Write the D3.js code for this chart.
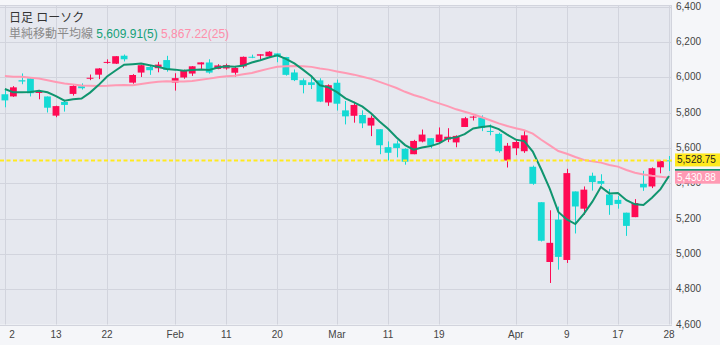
<!DOCTYPE html>
<html><head><meta charset="utf-8">
<script src="https://cdn.jsdelivr.net/npm/d3@7"></script>
<style>html,body{margin:0;padding:0;background:#f5f6f9;} svg{display:block;}</style>
</head><body><svg id="c" width="720" height="345"></svg>
<script>
// ---------- data ----------
const dates = [
 "2025-01-02","2025-01-03","2025-01-06","2025-01-07","2025-01-08","2025-01-10","2025-01-13","2025-01-14","2025-01-15","2025-01-16",
 "2025-01-17","2025-01-21","2025-01-22","2025-01-23","2025-01-24","2025-01-27","2025-01-28","2025-01-29","2025-01-30","2025-01-31",
 "2025-02-03","2025-02-04","2025-02-05","2025-02-06","2025-02-07","2025-02-10","2025-02-11","2025-02-12","2025-02-13","2025-02-14",
 "2025-02-18","2025-02-19","2025-02-20","2025-02-21","2025-02-24","2025-02-25","2025-02-26","2025-02-27","2025-02-28",
 "2025-03-03","2025-03-04","2025-03-05","2025-03-06","2025-03-07","2025-03-10","2025-03-11","2025-03-12","2025-03-13","2025-03-14",
 "2025-03-17","2025-03-18","2025-03-19","2025-03-20","2025-03-21","2025-03-24","2025-03-25","2025-03-26","2025-03-27","2025-03-28","2025-03-31",
 "2025-04-01","2025-04-02","2025-04-03","2025-04-04","2025-04-07","2025-04-08","2025-04-09","2025-04-10","2025-04-11",
 "2025-04-14","2025-04-15","2025-04-16","2025-04-17","2025-04-21","2025-04-22","2025-04-23","2025-04-24","2025-04-25","2025-04-28"];
const open = [
 5903.26,5891.07,5982.81,5993.26,5910.66,5890.65,5782.21,5859.60,5905.21,5948.36,5991.00,6014.12,6081.39,6076.30,6121.43,5969.04,6026.00,6057.70,6050.75,6096.79,
 5969.65,5998.14,6020.45,6072.22,6083.13,6046.40,6049.32,6025.08,6060.59,6115.52,6121.60,6117.76,6134.50,6114.10,6026.69,5982.73,5970.87,5981.88,5856.74,
 5968.33,5811.98,5781.43,5785.87,5726.01,5705.37,5603.65,5624.84,5594.45,5563.85,5635.60,5654.53,5632.37,5646.92,5630.73,5718.08,5775.86,5771.66,5695.64,5679.05,5527.91,
 5597.53,5580.76,5492.74,5292.14,4953.79,5193.57,4965.28,5353.15,5255.56,5441.96,5411.99,5335.75,5305.45,5232.94,5207.67,5395.92,5381.38,5489.73,5529.22];
const high = [
 5935.09,5949.34,6021.04,6000.68,5927.89,5891.00,5838.50,5871.92,5960.61,5964.69,6014.96,6051.51,6100.81,6118.73,6128.18,6017.17,6069.50,6062.83,6086.64,6120.91,
 6022.13,6042.48,6062.86,6084.03,6101.28,6073.38,6076.28,6063.47,6116.91,6127.47,6129.63,6147.43,6134.50,6114.82,6043.65,5992.65,6009.82,5993.69,5959.40,
 5986.09,5865.08,5860.59,5812.08,5783.01,5705.37,5636.30,5642.19,5597.78,5645.27,5703.52,5654.53,5715.33,5711.15,5670.84,5775.14,5781.74,5783.62,5732.28,5685.89,5627.56,
 5650.57,5695.31,5499.53,5292.14,5246.59,5267.47,5481.34,5353.15,5381.46,5459.46,5450.41,5367.24,5328.31,5232.94,5309.60,5469.69,5489.40,5528.11,5553.66];
const low = [
 5829.53,5888.66,5960.01,5890.68,5874.78,5800.00,5773.31,5805.08,5895.68,5930.00,5983.00,5989.00,6076.00,6074.67,6088.74,5962.92,6001.00,6012.96,6027.46,6030.93,
 5923.93,5990.87,6007.06,6046.83,6019.96,6044.84,6042.34,6003.00,6050.95,6107.62,6099.51,6111.15,6084.59,6008.56,5977.83,5908.49,5932.69,5858.78,5837.66,
 5810.91,5732.59,5742.35,5711.64,5666.29,5564.02,5528.41,5546.09,5504.65,5563.85,5631.12,5597.76,5622.20,5632.30,5603.10,5718.08,5754.79,5694.41,5670.94,5572.42,5488.73,
 5558.52,5571.48,5390.83,5069.90,4835.04,4910.42,4948.43,5115.27,5220.77,5358.02,5386.44,5220.79,5255.58,5101.63,5207.67,5356.53,5371.96,5455.86,5468.64];
const close = [
 5868.55,5942.47,5975.38,5909.03,5918.25,5827.04,5836.22,5842.91,5949.91,5937.34,5996.66,6049.24,6086.37,6118.71,6101.24,6012.28,6067.70,6039.31,6071.17,6040.53,
 5994.57,6037.88,6061.48,6083.57,6025.99,6066.44,6068.50,6051.97,6115.07,6114.63,6129.58,6144.15,6117.52,6013.13,5983.25,5955.25,5956.06,5861.57,5954.50,
 5849.72,5778.15,5842.63,5738.52,5770.20,5614.56,5572.07,5599.30,5521.52,5638.94,5675.12,5614.66,5675.29,5662.89,5667.56,5767.57,5776.65,5712.20,5693.31,5580.94,5611.85,
 5633.07,5670.97,5396.52,5074.08,5062.25,4982.77,5456.90,5268.05,5363.36,5405.97,5396.63,5275.70,5282.70,5158.20,5287.76,5375.86,5484.77,5525.21,5528.75];
// closes before the first visible day (for moving averages)
const priorCloses = [6021.63,5998.74,6032.38,6047.15,6049.88,6086.49,6075.11,6090.27,6052.85,6034.91,6084.19,6051.25,
 6051.09,6074.08,6050.61,5872.16,5867.08,5930.85,5974.07,6040.04,6037.59,5970.84,5906.94,5881.63];
const yTicks = [4600,4800,5000,5200,5400,5600,5800,6000,6200,6400];
const xTickDates = ["2025-01-02","2025-01-13","2025-01-22","2025-02-03","2025-02-11","2025-02-20","2025-03-03","2025-03-11","2025-03-19","2025-04-01","2025-04-09","2025-04-17","2025-04-28"];
const xTickLabels = ["2","13","22","Feb","11","20","Mar","11","19","Apr","9","17","28"];
const maPeriods = [5, 25];
const legendDate = "2025-03-18";
const titleText = "日足 ローソク";
const maText = "単純移動平均線";

// ---------- styles ----------
const C = {outer:"#f5f6f9", plot:"#e6e8ef", grid:"#d2d4dd", up:"#ff0a54", down:"#14dad4",
  ma5:"#10956f", ma25:"#ff9ab4", last:"#ffe920", text:"#444"};
const FONT = "'Liberation Sans', Arial, 'Noto Sans CJK JP', sans-serif";

const svg = d3.select("#c");
const P = {left:0, top:5, right:672, bottom:324.5};

const step = (669 - 4.9) / (dates.length - 1);
const x = d3.scaleBand().domain(dates).range([4.9 - step/2, 669 + step/2]).padding(0);
const cx = d => x(d) + x.bandwidth()/2;
const y = d3.scaleLinear().domain([4600, 6400]).range([324.5, 6.5]);

// moving averages
const allC = priorCloses.concat(close);
const off = priorCloses.length;
const ma = {};
maPeriods.forEach(n => {
  ma[n] = close.map((c, i) => d3.mean(allC.slice(off + i - n + 1, off + i + 1)));
});

svg.append("rect").attr("width", 720).attr("height", 345).attr("fill", C.outer);
svg.append("rect").attr("x", P.left).attr("y", P.top).attr("width", P.right - P.left).attr("height", P.bottom - P.top).attr("fill", C.plot);

svg.append("defs").append("clipPath").attr("id", "clip")
  .append("rect").attr("x", P.left).attr("y", P.top).attr("width", P.right - P.left).attr("height", P.bottom - P.top);

// grid
const g = svg.append("g");
g.selectAll("line.h").data(yTicks).join("line")
  .attr("x1", P.left).attr("x2", P.right)
  .attr("y1", d => Math.round(y(d)) + 0.5).attr("y2", d => Math.round(y(d)) + 0.5)
  .attr("stroke", C.grid);
g.selectAll("line.v").data(xTickDates).join("line")
  .attr("x1", d => Math.round(cx(d)) + 0.5).attr("x2", d => Math.round(cx(d)) + 0.5)
  .attr("y1", P.top).attr("y2", P.bottom)
  .attr("stroke", C.grid);
g.append("line").attr("x1", P.left).attr("x2", P.right).attr("y1", P.top + 0.5).attr("y2", P.top + 0.5).attr("stroke", C.grid);
g.append("line").attr("x1", P.right - 0.5).attr("x2", P.right - 0.5).attr("y1", P.top).attr("y2", P.bottom).attr("stroke", C.grid);

// candles
const cg = svg.append("g").attr("clip-path", "url(#clip)");
const bw = x.bandwidth() * 0.8;
const idx = d3.range(dates.length);
cg.selectAll("line.w").data(idx).join("line")
  .attr("x1", i => Math.round(cx(dates[i])) + 0.5).attr("x2", i => Math.round(cx(dates[i])) + 0.5)
  .attr("y1", i => y(high[i])).attr("y2", i => y(low[i]))
  .attr("stroke", i => close[i] >= open[i] ? C.up : C.down).attr("stroke-width", 1);
cg.selectAll("rect.b").data(idx).join("rect")
  .attr("x", i => cx(dates[i]) - bw/2).attr("width", bw)
  .attr("y", i => y(Math.max(open[i], close[i])))
  .attr("height", i => Math.max(1, Math.abs(y(open[i]) - y(close[i]))))
  .attr("fill", i => close[i] >= open[i] ? C.up : C.down);

// MA lines
const line = n => d3.line().x((v, i) => cx(dates[i])).y(v => y(v))(ma[n]);
cg.append("path").attr("d", line(25)).attr("fill", "none").attr("stroke", C.ma25).attr("stroke-width", 2);
cg.append("path").attr("d", line(5)).attr("fill", "none").attr("stroke", C.ma5).attr("stroke-width", 2);

// last price dashed line
const last = close[close.length - 1];
svg.append("line").attr("x1", P.left).attr("x2", P.right)
  .attr("y1", y(last)).attr("y2", y(last))
  .attr("stroke", C.last).attr("stroke-width", 2).attr("stroke-dasharray", "4,2.5");

// y axis
const yAxis = svg.append("g").attr("transform", `translate(${P.right},0)`)
  .call(d3.axisRight(y).tickValues(yTicks).tickSize(0).tickPadding(4).tickFormat(d3.format(",")));
yAxis.select(".domain").remove();
yAxis.selectAll("text").attr("font-family", FONT).attr("font-size", 10).attr("fill", C.text).attr("dy", "0.25em");

// x axis
const lbl = new Map(xTickDates.map((d, i) => [d, xTickLabels[i]]));
const xAxis = svg.append("g").attr("transform", `translate(0,${P.bottom})`)
  .call(d3.axisBottom(x).tickValues(xTickDates).tickSize(0).tickPadding(6).tickFormat(d => lbl.get(d)));
xAxis.select(".domain").remove();
xAxis.selectAll("text").attr("font-family", FONT).attr("font-size", 10).attr("fill", C.text);
xAxis.selectAll(".tick").attr("transform", d => `translate(${Math.max(12, cx(d))},0)`);

// price tags (the 5-day tag sits under the 25-day tag, only its edge shows)
const fmt2 = d3.format(",.2f");
function tag(v, bg, fg, showText) {
  const t = svg.append("g");
  const yy = y(v) - 0.5;
  t.append("rect").attr("x", 675).attr("y", yy - 6.5).attr("width", 45).attr("height", 13).attr("fill", bg);
  if (showText) t.append("text").attr("x", 677).attr("y", yy).attr("dy", "0.35em").attr("font-family", FONT).attr("font-size", 10)
    .attr("fill", fg).text(fmt2(v));
}
tag(ma[5][ma[5].length - 1], C.ma5, "#fff", false);
tag(ma[25][ma[25].length - 1], C.ma25, "#fff", true);
tag(last, C.last, "#222", true);

// legend
const li = dates.indexOf(legendDate);
svg.append("text").attr("x", 9).attr("y", 21.5).attr("font-family", FONT).attr("font-size", 12).attr("fill", "#333").text(titleText);
const l2 = svg.append("text").attr("x", 9).attr("y", 38).attr("font-family", FONT).attr("font-size", 12);
l2.append("tspan").attr("fill", "#8a8a8a").text(maText + " ");
l2.append("tspan").attr("fill", "#15a078").text(`${fmt2(ma[5][li])}(5) `);
l2.append("tspan").attr("fill", "#ff8fab").text(`${fmt2(ma[25][li])}(25)`);
</script></body></html>
